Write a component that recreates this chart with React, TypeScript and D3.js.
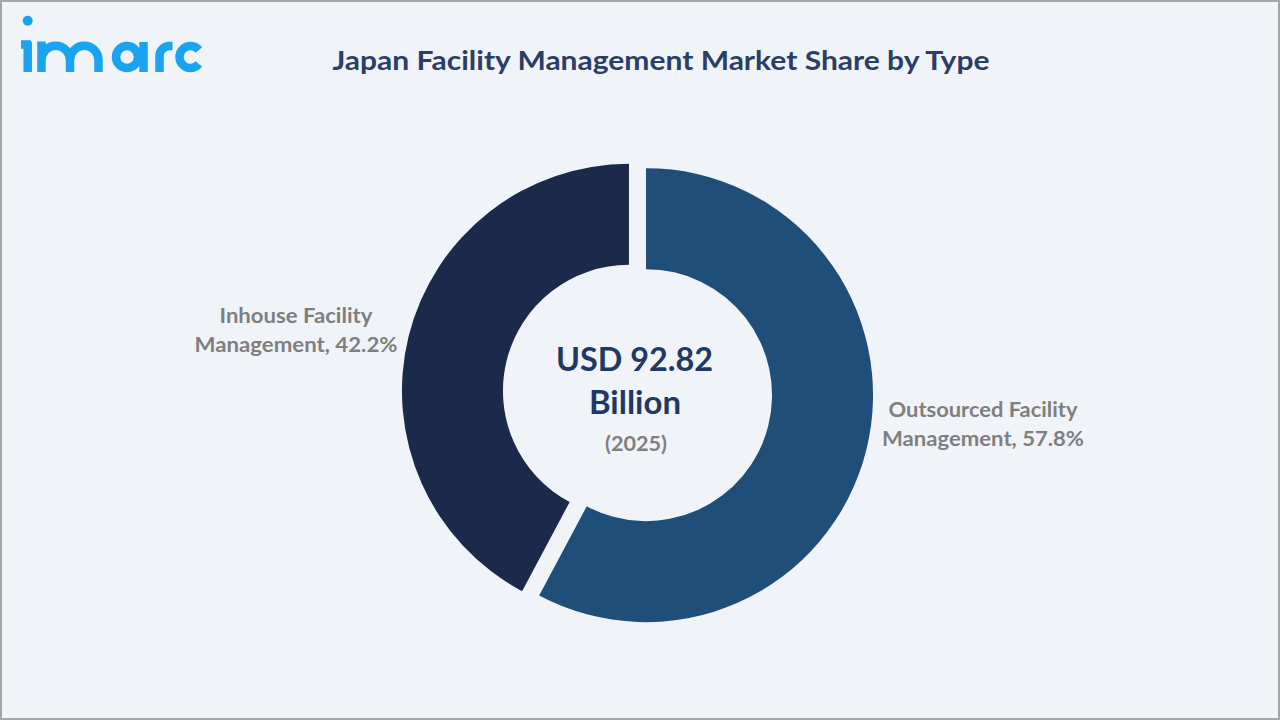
import React from "react";
import * as d3 from "d3";

const categories = ["Outsourced Facility Management", "Inhouse Facility Management"];
const shares = [57.8, 42.2];
const labelLines = [
  ["Outsourced Facility", "Management, 57.8%"],
  ["Inhouse Facility", "Management, 42.2%"],
];
const colors = ["#1f4e79", "#1b2a4a"];
const title = "Japan Facility Management Market Share by Type";
const centerLines = ["USD 92.82", "Billion"];
const centerYear = "(2025)";

const W = 1280;
const H = 720;
const cx = 637.5;
const cy = 393;
const R = 227;
const r = 126;
const explode = 8.8;
const FONT = "Lato, 'Open Sans', sans-serif";
const LOGO = "#1aa3ee";

export default function App() {
  const data = categories.map((c, i) => ({ c, v: shares[i], i }));
  const pie = d3
    .pie<{ c: string; v: number; i: number }>()
    .sort(null)
    .value((d) => d.v)
    .startAngle(0)
    .endAngle(2 * Math.PI);
  const arcs = pie(data);
  const arc = d3
    .arc<d3.PieArcDatum<{ c: string; v: number; i: number }>>()
    .innerRadius(r)
    .outerRadius(R);

  const labelPos = [
    { x: 983, y: 417 },
    { x: 296, y: 323 },
  ];
  const labelWidths = [
    [189, 202],
    [153, 203],
  ];

  return (
    <svg
      width={W}
      height={H}
      style={{ position: "absolute", left: 0, top: 0 }}
      xmlns="http://www.w3.org/2000/svg"
    >
      <rect x={0} y={0} width={W} height={H} fill="#f0f4f9" />
      <rect x={1} y={1} width={W - 2} height={H - 2} fill="none" stroke="#a6a6a6" strokeWidth={2} />

      {/* logo */}
      <g fill="none" stroke={LOGO} strokeWidth={8.5}>
        <path d="M27.7,72 V42" />
        <path d="M21,44.5 H31" />
        <path d="M41.5,72 V41.5 M41.5,60 A14,14 0 0 1 70,60 V72 M70,60 A14,14 0 0 1 98.5,60 V72" />
        <circle cx={127} cy={57} r={11} />
        <path d="M143.5,42 V72" />
        <path d="M159.5,72 V56 A10,10 0 0 1 169.5,46 H172.5" />
        <path d="M198.9,49.9 A11,11 0 1 0 198.9,64.1" />
      </g>
      <circle cx={27.7} cy={20.7} r={5} fill={LOGO} />

      <text
        x={661}
        y={70}
        textAnchor="middle"
        fontFamily={FONT}
        fontWeight={700}
        fontSize={27}
        fill="#2b3f66"
        textLength={657}
        lengthAdjust="spacingAndGlyphs"
      >
        {title}
      </text>

      <g>
        {arcs.map((a, i) => {
          const mid = (a.startAngle + a.endAngle) / 2;
          const dx = Math.sin(mid) * explode;
          const dy = -Math.cos(mid) * explode;
          return (
            <path
              key={i}
              d={arc(a) || ""}
              transform={`translate(${cx + dx},${cy + dy})`}
              fill={colors[i]}
            />
          );
        })}
      </g>

      {labelLines.map((lines, i) =>
        lines.map((l, j) => (
          <text
            key={`${i}-${j}`}
            x={labelPos[i].x}
            y={labelPos[i].y + j * 29}
            textAnchor="middle"
            fontFamily={FONT}
            fontWeight={700}
            fontSize={21}
            fill="#7f7f7f"
            textLength={labelWidths[i][j]}
            lengthAdjust="spacingAndGlyphs"
          >
            {l}
          </text>
        ))
      )}

      <text
        x={634.5}
        y={371}
        textAnchor="middle"
        fontFamily={FONT}
        fontWeight={700}
        fontSize={33}
        fill="#1f3864"
        textLength={157}
        lengthAdjust="spacingAndGlyphs"
      >
        {centerLines[0]}
      </text>
      <text
        x={635}
        y={414}
        textAnchor="middle"
        fontFamily={FONT}
        fontWeight={700}
        fontSize={33}
        fill="#1f3864"
      >
        {centerLines[1]}
      </text>
      <text
        x={636}
        y={451}
        textAnchor="middle"
        fontFamily={FONT}
        fontWeight={700}
        fontSize={21}
        fill="#7f7f7f"
        textLength={62}
        lengthAdjust="spacingAndGlyphs"
      >
        {centerYear}
      </text>
    </svg>
  );
}
